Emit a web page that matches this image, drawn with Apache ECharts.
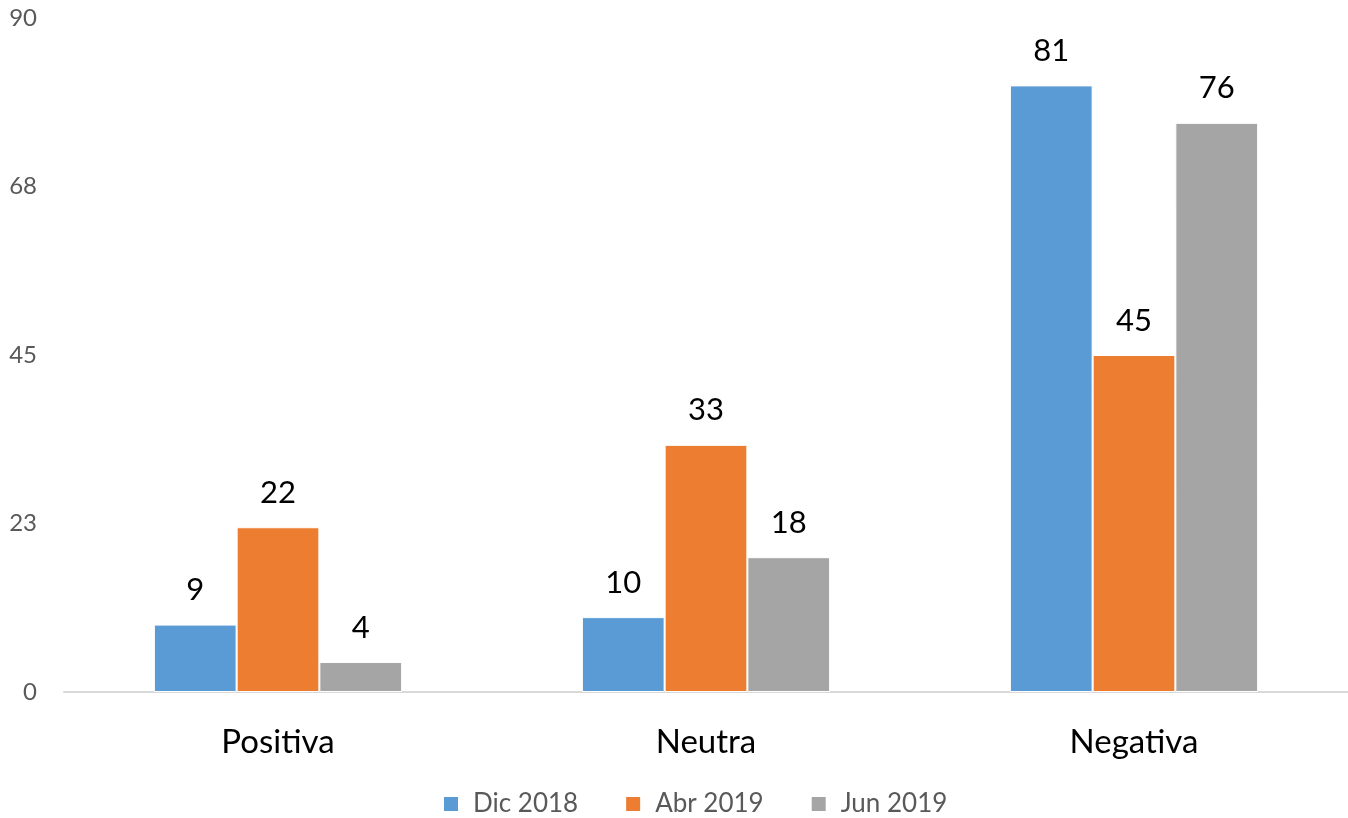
<!DOCTYPE html>
<html>
<head>
<meta charset="utf-8">
<script src="https://cdn.jsdelivr.net/npm/echarts@6/dist/echarts.min.js"></script>
<style>
  html, body { margin: 0; padding: 0; background: #fff; }
  #chart { width: 1348px; height: 818px; }
</style>
</head>
<body>
<div id="chart"></div>
<script>
    // datos
    var categorias = ['Positiva', 'Neutra', 'Negativa'];
    var dic2018 = [9, 10, 81];
    var abr2019 = [22, 33, 45];
    var jun2019 = [4, 18, 76];
    var nombres = ['Dic 2018', 'Abr 2019', 'Jun 2019'];

    var fuente = 'Lato, "Open Sans", sans-serif';
    var etiqueta = {
        show: true,
        position: 'top',
        distance: 19,
        fontSize: 31,
        color: '#000',
        fontFamily: fuente
    };

    var chart = echarts.init(document.getElementById('chart'));
    chart.setOption({
        color: ['#5b9bd5', '#ed7d31', '#a5a5a5'],
        textStyle: { fontFamily: fuente },
        legend: {
            top: 786,
            left: 437,
            itemWidth: 16,
            itemHeight: 16,
            itemGap: 46,
            icon: 'rect',
            data: nombres,
            textStyle: { fontSize: 26, color: '#595959', padding: [0, 0, 0, 9] }
        },
        grid: { left: 64, right: 0, top: 18, bottom: 126 },
        xAxis: {
            type: 'category',
            data: categorias,
            axisTick: { show: false },
            axisLine: { lineStyle: { color: '#d9d9d9', width: 2 } },
            axisLabel: { fontSize: 33, color: '#000', margin: 34 }
        },
        yAxis: {
            type: 'value',
            min: 0,
            max: 90,
            interval: 22.5,
            splitLine: { show: false },
            axisLine: { show: false },
            axisTick: { show: false },
            axisLabel: {
                fontSize: 24,
                color: '#595959',
                margin: 27,
                formatter: function (v) { return Math.round(v); }
            }
        },
        series: [
            { name: nombres[0], type: 'bar', data: dic2018, barGap: '0%', barCategoryGap: '42%',
              itemStyle: { borderColor: '#fff', borderWidth: 1 }, label: etiqueta },
            { name: nombres[1], type: 'bar', data: abr2019,
              itemStyle: { borderColor: '#fff', borderWidth: 1 }, label: etiqueta },
            { name: nombres[2], type: 'bar', data: jun2019,
              itemStyle: { borderColor: '#fff', borderWidth: 1 }, label: etiqueta }
        ]
    });
</script>
</body>
</html>
